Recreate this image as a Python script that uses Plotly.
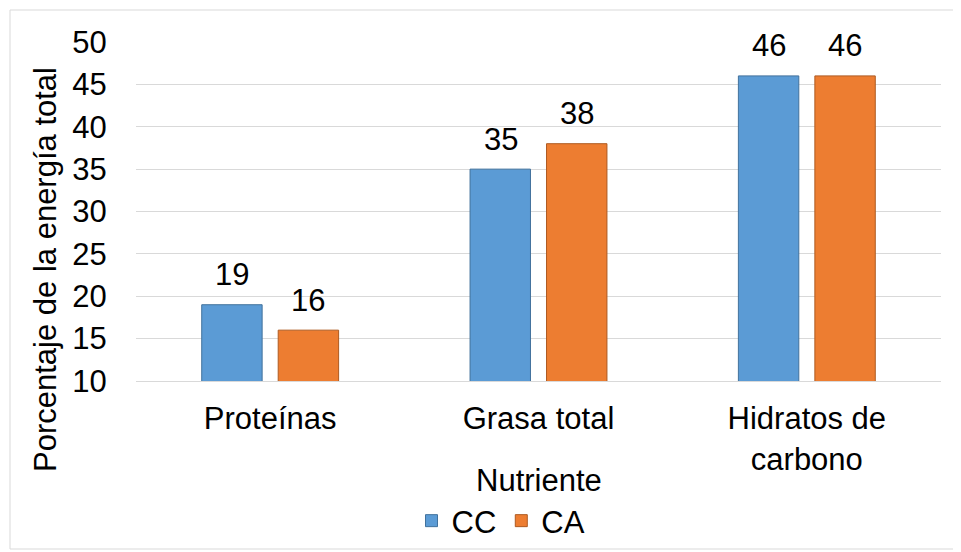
import plotly.graph_objects as go

categories = ["Proteínas", "Grasa total", "Hidratos de<br>carbono"]
cc_values = [19, 35, 46]
ca_values = [16, 38, 46]
series_names = ["CC", "CA"]
y_ticks = [10, 15, 20, 25, 30, 35, 40, 45, 50]

colors = ["#5B9BD5", "#ED7D31"]
edge = ["#41719C", "#AE5A21"]
FONT = "Liberation Sans, Arial, sans-serif"
FS = 31
OFF = 8  # page body margin

L, R, T, B = 136 - OFF, 941 - OFF, 42 - OFF, 381 - OFF
W, H = 953, 544


def px(x):
    return (x - OFF - L) / (R - L)


def py(y):
    return (B - (y - OFF)) / (B - T)


fig = go.Figure()
for name, vals, col, ec in zip(series_names, [cc_values, ca_values], colors, edge):
    fig.add_trace(go.Bar(
        name=name, x=categories, y=vals,
        marker=dict(color=col, line=dict(color=ec, width=1)),
    ))

# value labels above bars
offsets = [-38, 38]
for vals, off in zip([cc_values, ca_values], offsets):
    for c, v in zip(categories, vals):
        fig.add_annotation(x=c, y=v, xref="x", yref="y", text=str(v),
                           showarrow=False, xshift=off, yshift=30,
                           yanchor="middle", font=dict(size=FS, color="#000"))

fig.add_annotation(x=px(45), y=py(270), xref="paper", yref="paper",
                   text="Porcentaje de la energía total", textangle=-90,
                   showarrow=False, xanchor="center", yanchor="middle",
                   font=dict(size=FS, color="#000"))
fig.add_annotation(x=0.5, y=py(480), xref="paper", yref="paper",
                   text="Nutriente", showarrow=False, xanchor="center",
                   yanchor="middle", font=dict(size=FS, color="#000"))

fig.add_shape(type="rect", xref="paper", yref="paper",
              x0=px(10), x1=px(958), y0=py(549), y1=py(10),
              line=dict(color="#D9D9D9", width=1), fillcolor="rgba(0,0,0,0)")

fig.update_layout(
    width=W, height=H,
    margin=dict(l=L, r=W - R, t=T, b=H - B, autoexpand=False),
    paper_bgcolor="white", plot_bgcolor="white",
    font=dict(family=FONT, size=FS, color="#000"),
    barmode="group", bargap=0.43, bargroupgap=0.21,
    showlegend=True,
    legend=dict(orientation="h", x=px(501), xanchor="center", y=py(521),
                yanchor="middle", font=dict(size=FS), itemwidth=30,
                traceorder="normal", tracegroupgap=0),
    xaxis=dict(showgrid=False, showline=True, linecolor="#D9D9D9", linewidth=1,
               ticks="outside", ticklen=10, tickcolor="rgba(0,0,0,0)",
               tickfont=dict(size=FS), automargin=False),
    yaxis=dict(range=[10, 50], tickvals=y_ticks, showgrid=True,
               gridcolor="#D9D9D9", gridwidth=1, zeroline=False,
               showline=False, ticks="outside", ticklen=22,
               tickcolor="rgba(0,0,0,0)", tickfont=dict(size=FS),
               automargin=False),
)

fig.write_html("out.html")
